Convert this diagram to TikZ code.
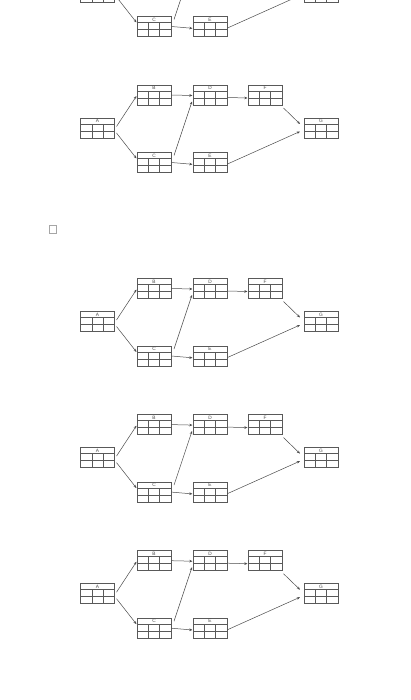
\documentclass[tikz,border=0pt]{standalone}
\usepackage{fontspec}
\setmainfont{Liberation Sans}
\usetikzlibrary{arrows.meta}
\tikzset{
  taskbox/.style={draw=black!65, line width=0.5pt, minimum width=34pt, minimum height=20pt, inner sep=0pt, outer sep=0pt},
  gridline/.style={draw=black!65, line width=0.45pt},
  lbl/.style={inner sep=0pt, text=black!70, font=\fontsize{4.8}{5}\selectfont},
  arr/.style={draw=black!70, line width=0.5pt, -{Stealth[length=3.2pt,width=2.6pt]}},
  smallsq/.style={draw=black!35, line width=0.4pt, minimum width=7pt, minimum height=8pt, inner sep=0pt}
}
\newif\ifshowtop
\newcommand\taskcell[4]{%
  \node[taskbox] (#1) at (#2,#3) {};
  \draw[gridline] ([yshift=-6pt]#1.north west) -- ([yshift=-6pt]#1.north east);
  \draw[gridline] ([yshift=-13pt]#1.north west) -- ([yshift=-13pt]#1.north east);
  \draw[gridline] ([xshift=11.33pt,yshift=-6pt]#1.north west) -- ([xshift=11.33pt]#1.south west);
  \draw[gridline] ([xshift=22.67pt,yshift=-6pt]#1.north west) -- ([xshift=22.67pt]#1.south west);
  \node[lbl] (#1-t) at ([yshift=-3.1pt]#1.north) {#4};
}
\newcommand\pertnet[2]{%
  \begin{scope}[shift={(0,#2)}, name prefix=#1-]
    \taskcell{A}{97.5}{0}{\ifshowtop A\fi}
    \taskcell{B}{154}{-33}{\ifshowtop B\fi}
    \taskcell{C}{154}{34.5}{C}
    \taskcell{D}{210}{-33}{\ifshowtop D\fi}
    \taskcell{E}{210}{34.5}{E}
    \taskcell{F}{265}{-33}{\ifshowtop F\fi}
    \taskcell{G}{321}{0}{\ifshowtop G\fi}
    \draw[arr] ([shift={(2pt,1.5pt)}]A.east) -- ([shift={(-0.5pt,-1pt)}]B.west);
    \draw[arr] ([shift={(2pt,-5pt)}]A.east) -- ([shift={(-0.5pt,4pt)}]C.west);
    \draw[arr] ([shift={(0.5pt,0pt)}]B.east) -- ([shift={(-0.5pt,-0.5pt)}]D.west);
    \draw[arr] ([shift={(3pt,-3pt)}]C.north east) -- ([shift={(-1pt,-6.5pt)}]D.west);
    \draw[arr] ([shift={(0.5pt,0pt)}]C.east) -- ([shift={(-0.5pt,-1.8pt)}]E.west);
    \draw[arr] ([shift={(0.5pt,-2.5pt)}]D.east) -- ([shift={(-0.5pt,-3pt)}]F.west);
    \draw[arr] ([shift={(1.5pt,-3pt)}]F.south east) -- ([shift={(-4pt,4pt)}]G.west);
    \draw[arr] ([shift={(0.5pt,-1.5pt)}]E.east) -- ([shift={(-4pt,-3.5pt)}]G.west);
  \end{scope}
}
\begin{document}
\begin{tikzpicture}[x={(1pt,0pt)}, y={(0pt,-1pt)}]
  \useasboundingbox (0,0) rectangle (411,700);
  \fill[white] (0,0) rectangle (411,700);
  \clip (0,0) rectangle (411,700);
  \showtopfalse
  \pertnet{d1}{-8}
  \showtoptrue
  \pertnet{d2}{128}
  \node[smallsq] (sq) at (52.5,229.5) {};
  \pertnet{d3}{321.5}
  \pertnet{d4}{457.6}
  \pertnet{d5}{593.7}
\end{tikzpicture}
\end{document}
